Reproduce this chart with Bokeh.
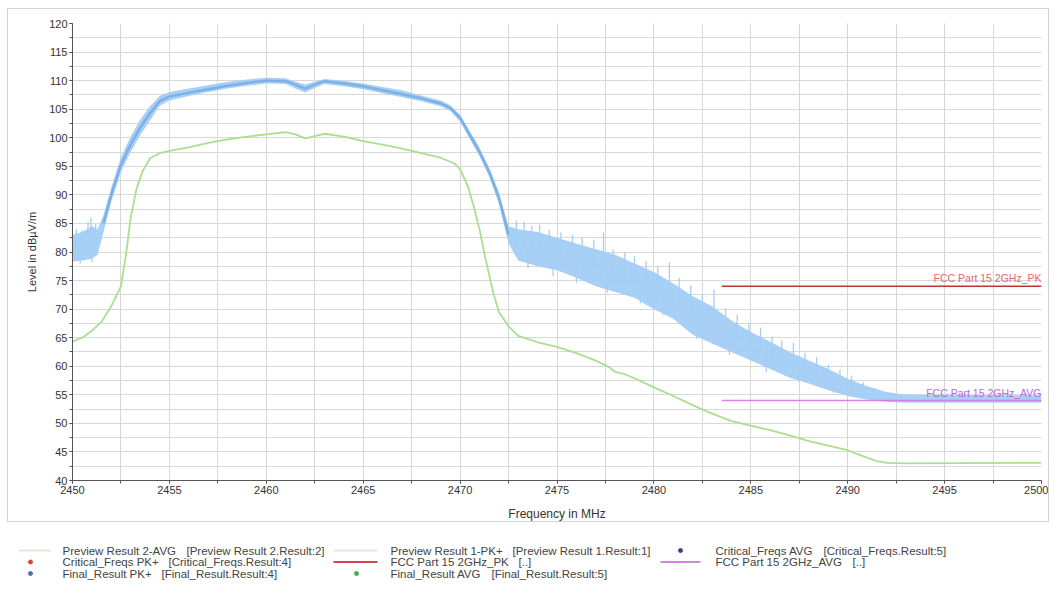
from bokeh.plotting import figure
from bokeh.layouts import column, row
from bokeh.models import Range1d, SingleIntervalTicker, Label, Spacer
from bokeh.embed import file_html
from bokeh.resources import INLINE
from bokeh.core.properties import value

FONT = "Liberation Sans"

# ---- Preview Result 2-AVG (green) ----
avg_freq = [2450.0, 2450.5, 2451.0, 2451.5, 2452.0, 2452.5, 2452.8, 2453.0, 2453.3, 2453.6,
            2454.0, 2454.5, 2455.0, 2456.0, 2457.0, 2458.0, 2459.0, 2460.0, 2461.0, 2461.5,
            2462.0, 2462.5, 2463.0, 2464.0, 2465.0, 2466.0, 2467.0, 2468.0, 2469.0, 2469.7,
            2470.0, 2470.4, 2470.7, 2471.0, 2471.3, 2471.7, 2472.0, 2472.5, 2473.0, 2474.0,
            2475.0, 2476.0, 2477.0, 2477.7, 2478.0, 2478.5, 2479.0, 2480.0, 2481.0, 2482.0,
            2483.0, 2484.0, 2485.0, 2486.0, 2487.0, 2488.0, 2489.0, 2490.0, 2490.5, 2491.0,
            2491.5, 2492.0, 2493.0, 2500.0]
avg_level = [64.3, 65.0, 66.2, 67.8, 70.5, 74.0, 80.5, 86.0, 91.0, 94.0,
             96.4, 97.3, 97.7, 98.3, 99.1, 99.7, 100.2, 100.6, 101.0, 100.6,
             99.9, 100.3, 100.7, 100.2, 99.4, 98.8, 98.1, 97.3, 96.5, 95.5,
             94.5, 91.5, 88.0, 84.0, 79.0, 73.0, 69.5, 67.0, 65.3, 64.2,
             63.4, 62.3, 61.0, 59.8, 59.0, 58.6, 57.9, 56.3, 54.8, 53.2,
             51.7, 50.4, 49.6, 48.8, 47.9, 46.9, 46.1, 45.3, 44.6, 44.0,
             43.4, 43.1, 43.0, 43.1]

# ---- Preview Result 1-PK+ (blue): centre, lower and upper envelope ----
pk_freq = [2450.0, 2450.5, 2451.0, 2451.3, 2451.6, 2452.0, 2452.5, 2453.0, 2453.5, 2454.0,
           2454.5, 2455.0, 2456.0, 2457.0, 2458.0, 2459.0, 2460.0, 2461.0, 2461.5, 2462.0,
           2462.5, 2463.0, 2464.0, 2465.0, 2466.0, 2467.0, 2468.0, 2469.0, 2469.5, 2470.0,
           2470.5, 2471.0, 2471.5, 2472.0, 2472.5, 2473.0, 2474.0, 2475.0, 2476.0, 2477.0,
           2478.0, 2479.0, 2480.0, 2481.0, 2482.0, 2483.0, 2484.0, 2485.0, 2486.0, 2487.0,
           2488.0, 2489.0, 2490.0, 2491.0, 2492.0, 2493.0, 2500.0]
pk_level = [80.3, 80.0, 80.3, 81.5, 85.0, 90.0, 95.3, 98.8, 101.8, 104.3,
            106.4, 107.2, 107.9, 108.5, 109.1, 109.6, 110.0, 109.9, 109.3, 108.6,
            109.3, 109.9, 109.5, 109.0, 108.3, 107.6, 106.9, 106.0, 105.2, 103.5,
            100.5, 97.5, 94.0, 89.5, 83.0, 81.0, 80.3, 79.5, 78.5, 77.3,
            76.3, 75.0, 73.3, 71.5, 69.3, 67.3, 65.3, 63.5, 61.8, 60.3,
            58.8, 57.5, 56.2, 55.2, 54.5, 54.3, 54.3]
pk_low = [78.3, 78.5, 78.8, 79.5, 83.5, 88.8, 94.0, 97.5, 100.5, 103.0,
          105.6, 106.5, 107.3, 108.0, 108.6, 109.1, 109.5, 109.4, 108.6, 107.9,
          108.7, 109.4, 109.0, 108.5, 107.8, 107.1, 106.4, 105.5, 104.7, 102.8,
          99.8, 96.8, 93.2, 88.5, 81.5, 78.5, 77.5, 76.8, 75.5, 74.0,
          73.0, 72.0, 70.0, 68.3, 65.5, 64.0, 62.5, 61.0, 59.5, 58.0,
          57.0, 55.8, 54.8, 54.2, 53.8, 53.6, 53.6]
pk_high = [83.0, 83.5, 84.5, 84.0, 86.5, 91.3, 96.6, 100.2, 103.2, 105.5,
           107.3, 108.0, 108.6, 109.2, 109.8, 110.2, 110.5, 110.4, 109.8, 109.3,
           109.8, 110.3, 110.0, 109.5, 108.9, 108.3, 107.4, 106.5, 105.7, 104.0,
           101.2, 98.3, 94.8, 90.5, 84.5, 84.0, 83.5, 82.5, 81.5, 80.5,
           79.5, 78.0, 76.5, 74.5, 72.3, 70.5, 68.0, 66.0, 64.3, 62.5,
           61.0, 59.5, 57.8, 56.5, 55.5, 55.0, 54.9]

# isolated peaks / dips of the PK+ trace (frequency, from, to)
spike_freq = [2450.2, 2450.4, 2450.5, 2450.8, 2450.95, 2451.0, 2451.2,
              2472.9, 2473.3, 2473.5, 2473.7, 2474.1, 2474.6, 2474.8, 2475.2, 2475.8, 2476.0,
              2476.3, 2476.9, 2477.4, 2477.6, 2477.9, 2478.5, 2479.0, 2479.3, 2479.6, 2480.2,
              2480.5, 2480.8, 2481.3, 2481.9, 2482.2, 2482.5, 2483.1, 2483.7, 2483.9, 2484.3,
              2484.9, 2485.5, 2485.8, 2486.1, 2486.6, 2487.2, 2487.5, 2487.8, 2488.4, 2489.0,
              2489.3, 2489.6, 2490.2, 2490.8, 2491.4]
spike_base = [80.0, 80.0, 80.0, 80.0, 80.0, 80.3, 81.0,
              81.0, 80.8, 80.5, 80.5, 80.3, 80.0, 79.7, 79.3, 78.7, 78.4,
              78.2, 77.5, 77.0, 76.8, 76.4, 75.7, 75.0, 74.6, 74.0, 73.0,
              73.0, 72.0, 71.0, 69.5, 69.0, 68.3, 67.2, 66.0, 65.6, 64.8,
              63.7, 62.6, 62.2, 61.7, 60.9, 60.0, 59.8, 59.2, 58.5, 57.5,
              57.2, 56.8, 56.0, 55.4, 54.9]
spike_top = [84.0, 78.0, 83.8, 85.2, 86.0, 78.2, 85.0,
             85.5, 85.3, 77.2, 84.6, 84.8, 83.9, 75.8, 83.4, 83.0, 74.6,
             82.4, 82.2, 83.4, 72.9, 80.5, 80.0, 79.2, 71.0, 78.4, 77.4,
             69.0, 78.2, 75.5, 74.2, 64.8, 72.6, 73.4, 70.2, 62.0, 69.0,
             67.6, 66.8, 59.0, 65.2, 64.5, 64.1, 57.3, 62.4, 61.6, 60.2,
             55.3, 59.4, 58.4, 57.2, 56.2]

# ---- limits ----
limit_freq = [2483.5, 2500.0]
limit_pk = [74.0, 74.0]
limit_avg = [54.0, 54.0]

x_ticks_interval = 5
y_ticks_interval = 5

legend_names = [
    "Preview Result 2-AVG", "Preview Result 1-PK+", "Critical_Freqs AVG",
    "Critical_Freqs PK+", "FCC Part 15 2GHz_PK", "FCC Part 15 2GHz_AVG",
    "Final_Result PK+", "Final_Result AVG",
]
legend_sources = [
    "[Preview Result 2.Result:2]", "[Preview Result 1.Result:1]", "[Critical_Freqs.Result:5]",
    "[Critical_Freqs.Result:4]", "[..]", "[..]",
    "[Final_Result.Result:4]", "[Final_Result.Result:5]",
]
legend_kinds = ["line", "line", "dot", "dot", "line", "line", "dot", "dot"]
legend_colors = ["#dcefd2", "#ebe4ec", "#3b3f8f", "#d04848", "#d04656", "#d286e0", "#4a6fb5", "#45b045"]

GREEN = "#a8e090"
BLUE_BAND = "#a3cef6"
BLUE_CORE = "#7db1e5"
RED = "#bf3434"
MAGENTA = "#d777e4"

p = figure(width=1042, height=514,
           x_range=Range1d(2450, 2500), y_range=Range1d(40, 120),
           output_backend="svg", toolbar_location=None,
           min_border_left=64, min_border_top=14, min_border_right=9, min_border_bottom=42,
           styles={"border": "1px solid #d2d2d2"})
p.outline_line_color = None
p.background_fill_color = "white"
p.border_fill_color = "white"

for ax, iv in ((p.xaxis, x_ticks_interval), (p.yaxis, y_ticks_interval)):
    ax.ticker = SingleIntervalTicker(interval=iv, num_minor_ticks=2)
    ax.axis_line_color = "#555555"
    ax.major_tick_line_color = "#555555"
    ax.minor_tick_line_color = "#555555"
    ax.major_tick_in = 0
    ax.major_tick_out = 3
    ax.minor_tick_in = 0
    ax.minor_tick_out = 3
    ax.major_label_text_font = FONT
    ax.major_label_text_font_size = "11px"
    ax.major_label_text_color = "#333333"
    ax.axis_label_text_font = FONT
    ax.axis_label_text_font_style = "normal"
    ax.axis_label_text_color = "#333333"

p.xaxis.axis_label = "Frequency in MHz"
p.xaxis.axis_label_text_font_size = "12px"
p.xaxis.major_label_standoff = 2
p.xaxis.axis_label_standoff = 10
p.yaxis.axis_label = "Level in dBµV/m"
p.yaxis.axis_label_text_font_size = "11px"
p.yaxis.major_label_standoff = 2
p.yaxis.axis_label_standoff = 8

for g in (p.xgrid, p.ygrid):
    g.grid_line_color = "#d8d8d8"
    g.minor_grid_line_color = "#d8d8d8"

# traces
p.line(avg_freq, avg_level, line_color=GREEN, line_width=1.8)
p.varea(x=pk_freq, y1=pk_low, y2=pk_high, fill_color=BLUE_BAND, fill_alpha=0.95)
p.segment(x0=spike_freq, y0=spike_base, x1=spike_freq, y1=spike_top, line_color=BLUE_BAND, line_width=1.3)
core = [i for i, f in enumerate(pk_freq) if 2451.6 <= f <= 2472.5]
p.line([pk_freq[i] for i in core], [pk_level[i] for i in core], line_color=BLUE_CORE, line_width=2.5)

p.line(limit_freq, limit_pk, line_color=RED, line_width=1.5)
p.line(limit_freq, limit_avg, line_color=MAGENTA, line_width=1.5, line_alpha=0.9)

p.add_layout(Label(x=limit_freq[-1], y=limit_pk[-1], text="FCC Part 15 2GHz_PK",
                   text_align="right", text_baseline="bottom", x_offset=0, y_offset=2,
                   text_font=FONT, text_font_size="10.5px", text_color="#e06a6a"))
p.add_layout(Label(x=limit_freq[-1], y=limit_avg[-1], text="FCC Part 15 2GHz_AVG",
                   text_align="right", text_baseline="bottom", x_offset=0, y_offset=2,
                   text_font=FONT, text_font_size="10.5px", text_color="#b866e6"))

# ---- legend area (its ranges are in page pixels) ----
LG_LEFT, LG_TOP, LG_W, LG_H = 9, 524, 1030, 62
lg = figure(width=LG_W, height=LG_H,
            x_range=Range1d(LG_LEFT, LG_LEFT + LG_W), y_range=Range1d(LG_TOP + LG_H, LG_TOP),
            output_backend="svg", toolbar_location=None,
            x_axis_location=None, y_axis_location=None,
            min_border_left=0, min_border_right=0, min_border_top=0, min_border_bottom=0)
lg.grid.visible = False
lg.outline_line_color = None

col_text_x = [62, 390, 715]
col_line_x = [(18, 50), (333, 377), (660, 700)]
col_dot_x = [30, 356, 680]
row_y = [552.0, 563.5, 575.0]
source_offset = [124, 122, 108, 106, 128, 137, 99, 101]

tx, ty, sx, lx0, lx1, ly, lc, dx, dy, dc = [], [], [], [], [], [], [], [], [], []
for i, (kind, col) in enumerate(zip(legend_kinds, legend_colors)):
    r, c = divmod(i, 3)
    tx.append(col_text_x[c])
    ty.append(row_y[r])
    sx.append(col_text_x[c] + source_offset[i])
    if kind == "line":
        lx0.append(col_line_x[c][0]); lx1.append(col_line_x[c][1]); ly.append(row_y[r]); lc.append(col)
    else:
        dx.append(col_dot_x[c]); dy.append(row_y[r]); dc.append(col)

lg.segment(x0=lx0, y0=ly, x1=lx1, y1=ly, line_color=lc, line_width=2)
lg.scatter(dx, dy, size=4, color=dc)
lg.text(x=tx, y=ty, text=legend_names, text_font=value(FONT), text_font_size="11.5px",
        text_color="#444444", text_baseline="middle", text_align="left")
lg.text(x=sx, y=ty, text=legend_sources, text_font=value(FONT), text_font_size="11.5px",
        text_color="#444444", text_baseline="middle", text_align="left")

layout = column(Spacer(height=8),
                row(Spacer(width=7), p, spacing=0),
                row(Spacer(width=LG_LEFT), lg, spacing=0),
                spacing=0)
open("out.html", "w").write(file_html(layout, INLINE))
